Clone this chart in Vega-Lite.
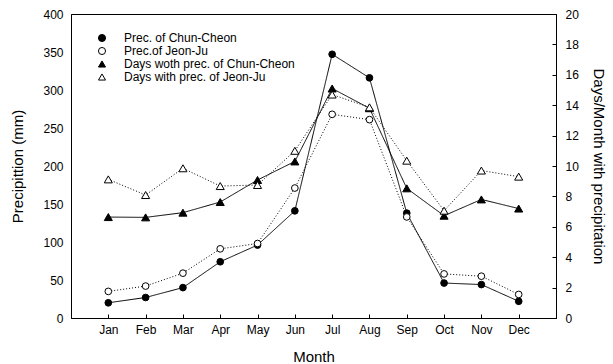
{
 "$schema": "https://vega.github.io/schema/vega-lite/v6.json",
 "width": 485,
 "height": 304,
 "autosize": {"type": "none"},
 "padding": {"left": 71, "top": 14, "right": 57, "bottom": 46},
 "background": "white",
 "config": {
  "view": {"stroke": "black", "strokeWidth": 1},
  "font": "Liberation Sans",
  "axis": {"labelFont": "Liberation Sans", "titleFont": "Liberation Sans", "labelFontSize": 12, "titleFontSize": 15, "titleFontWeight": "normal", "labelColor": "black", "titleColor": "black", "domainColor": "black", "tickColor": "black", "grid": false}
 },
 "data": {"values": [
  {"month": "Jan", "series": "Prec. of Chun-Cheon", "kind": "prec", "value": 20},
  {"month": "Feb", "series": "Prec. of Chun-Cheon", "kind": "prec", "value": 27},
  {"month": "Mar", "series": "Prec. of Chun-Cheon", "kind": "prec", "value": 40},
  {"month": "Apr", "series": "Prec. of Chun-Cheon", "kind": "prec", "value": 74},
  {"month": "May", "series": "Prec. of Chun-Cheon", "kind": "prec", "value": 96},
  {"month": "Jun", "series": "Prec. of Chun-Cheon", "kind": "prec", "value": 141},
  {"month": "Jul", "series": "Prec. of Chun-Cheon", "kind": "prec", "value": 347},
  {"month": "Aug", "series": "Prec. of Chun-Cheon", "kind": "prec", "value": 316},
  {"month": "Sep", "series": "Prec. of Chun-Cheon", "kind": "prec", "value": 138},
  {"month": "Oct", "series": "Prec. of Chun-Cheon", "kind": "prec", "value": 46},
  {"month": "Nov", "series": "Prec. of Chun-Cheon", "kind": "prec", "value": 44},
  {"month": "Dec", "series": "Prec. of Chun-Cheon", "kind": "prec", "value": 22},
  {"month": "Jan", "series": "Prec.of Jeon-Ju", "kind": "prec", "value": 35},
  {"month": "Feb", "series": "Prec.of Jeon-Ju", "kind": "prec", "value": 42},
  {"month": "Mar", "series": "Prec.of Jeon-Ju", "kind": "prec", "value": 59},
  {"month": "Apr", "series": "Prec.of Jeon-Ju", "kind": "prec", "value": 91},
  {"month": "May", "series": "Prec.of Jeon-Ju", "kind": "prec", "value": 98},
  {"month": "Jun", "series": "Prec.of Jeon-Ju", "kind": "prec", "value": 171},
  {"month": "Jul", "series": "Prec.of Jeon-Ju", "kind": "prec", "value": 268},
  {"month": "Aug", "series": "Prec.of Jeon-Ju", "kind": "prec", "value": 261},
  {"month": "Sep", "series": "Prec.of Jeon-Ju", "kind": "prec", "value": 133},
  {"month": "Oct", "series": "Prec.of Jeon-Ju", "kind": "prec", "value": 58},
  {"month": "Nov", "series": "Prec.of Jeon-Ju", "kind": "prec", "value": 55},
  {"month": "Dec", "series": "Prec.of Jeon-Ju", "kind": "prec", "value": 31},
  {"month": "Jan", "series": "Days woth prec. of Chun-Cheon", "kind": "days", "value": 6.64},
  {"month": "Feb", "series": "Days woth prec. of Chun-Cheon", "kind": "days", "value": 6.62},
  {"month": "Mar", "series": "Days woth prec. of Chun-Cheon", "kind": "days", "value": 6.93},
  {"month": "Apr", "series": "Days woth prec. of Chun-Cheon", "kind": "days", "value": 7.63},
  {"month": "May", "series": "Days woth prec. of Chun-Cheon", "kind": "days", "value": 9.08},
  {"month": "Jun", "series": "Days woth prec. of Chun-Cheon", "kind": "days", "value": 10.3},
  {"month": "Jul", "series": "Days woth prec. of Chun-Cheon", "kind": "days", "value": 15.1},
  {"month": "Aug", "series": "Days woth prec. of Chun-Cheon", "kind": "days", "value": 13.8},
  {"month": "Sep", "series": "Days woth prec. of Chun-Cheon", "kind": "days", "value": 8.53},
  {"month": "Oct", "series": "Days woth prec. of Chun-Cheon", "kind": "days", "value": 6.73},
  {"month": "Nov", "series": "Days woth prec. of Chun-Cheon", "kind": "days", "value": 7.8},
  {"month": "Dec", "series": "Days woth prec. of Chun-Cheon", "kind": "days", "value": 7.2},
  {"month": "Jan", "series": "Days with prec. of Jeon-Ju", "kind": "days", "value": 9.12},
  {"month": "Feb", "series": "Days with prec. of Jeon-Ju", "kind": "days", "value": 8.09},
  {"month": "Mar", "series": "Days with prec. of Jeon-Ju", "kind": "days", "value": 9.85},
  {"month": "Apr", "series": "Days with prec. of Jeon-Ju", "kind": "days", "value": 8.68},
  {"month": "May", "series": "Days with prec. of Jeon-Ju", "kind": "days", "value": 8.75},
  {"month": "Jun", "series": "Days with prec. of Jeon-Ju", "kind": "days", "value": 11.0},
  {"month": "Jul", "series": "Days with prec. of Jeon-Ju", "kind": "days", "value": 14.7},
  {"month": "Aug", "series": "Days with prec. of Jeon-Ju", "kind": "days", "value": 13.86},
  {"month": "Sep", "series": "Days with prec. of Jeon-Ju", "kind": "days", "value": 10.35},
  {"month": "Oct", "series": "Days with prec. of Jeon-Ju", "kind": "days", "value": 7.06},
  {"month": "Nov", "series": "Days with prec. of Jeon-Ju", "kind": "days", "value": 9.7},
  {"month": "Dec", "series": "Days with prec. of Jeon-Ju", "kind": "days", "value": 9.3}
 ]},
 "encoding": {
  "x": {"field": "month", "type": "ordinal", "sort": ["Jan","Feb","Mar","Apr","May","Jun","Jul","Aug","Sep","Oct","Nov","Dec"], "scale": {"type": "point", "padding": 1}, "axis": {"title": "Month", "labelAngle": 0, "tickSize": -4, "labelPadding": 10, "titlePadding": 14}}
 },
 "layer": [
  {
   "transform": [{"filter": "datum.kind === 'prec'"}],
   "encoding": {"y": {"field": "value", "type": "quantitative", "scale": {"domain": [0, 400], "nice": false}, "axis": {"title": "Precipittion (mm)", "values": [0,50,100,150,200,250,300,350,400], "ticks": false, "labelPadding": 8, "titlePadding": 17}}},
   "layer": [
    {"mark": {"type": "line", "color": "black", "strokeWidth": 1},
     "encoding": {
      "detail": {"field": "series", "type": "nominal"},
      "strokeDash": {"condition": {"test": "indexof(['Prec. of Chun-Cheon','Days woth prec. of Chun-Cheon'], datum.series) >= 0", "value": [1, 0]}, "value": [1, 2]}
     }},
    {"mark": {"type": "point", "filled": true, "stroke": "black", "strokeWidth": 1, "opacity": 1, "size": 45},
     "encoding": {
      "fill": {"field": "series", "type": "nominal", "scale": {"domain": ["Prec. of Chun-Cheon","Prec.of Jeon-Ju","Days woth prec. of Chun-Cheon","Days with prec. of Jeon-Ju"], "range": ["black","white","black","white"]},
       "legend": {"title": null, "orient": "none", "legendX": 25, "legendY": 18, "symbolSize": 50, "labelOffset": 16, "labelLimit": 400, "labelFont": "Liberation Sans", "labelFontSize": 12, "labelColor": "black", "rowPadding": 1, "symbolStrokeWidth": 1, "symbolOpacity": 1}},
      "shape": {"field": "series", "type": "nominal", "scale": {"domain": ["Prec. of Chun-Cheon","Prec.of Jeon-Ju","Days woth prec. of Chun-Cheon","Days with prec. of Jeon-Ju"], "range": ["circle","circle","triangle-up","triangle-up"]},
       "legend": {"title": null, "orient": "none", "legendX": 25, "legendY": 18, "symbolSize": 50, "labelOffset": 16, "labelLimit": 400, "labelFont": "Liberation Sans", "labelFontSize": 12, "labelColor": "black", "rowPadding": 1, "symbolStrokeWidth": 1, "symbolOpacity": 1}}
     }}
   ]
  },
  {
   "transform": [{"filter": "datum.kind === 'days'"}],
   "encoding": {"y": {"field": "value", "type": "quantitative", "scale": {"domain": [0, 20], "nice": false}, "axis": {"orient": "right", "title": "Days/Month with precipitation", "values": [0,2,4,6,8,10,12,14,16,18,20], "tickSize": -4, "labelPadding": 13, "titlePadding": 12}}},
   "layer": [
    {"mark": {"type": "line", "color": "black", "strokeWidth": 1},
     "encoding": {
      "detail": {"field": "series", "type": "nominal"},
      "strokeDash": {"condition": {"test": "indexof(['Prec. of Chun-Cheon','Days woth prec. of Chun-Cheon'], datum.series) >= 0", "value": [1, 0]}, "value": [1, 2]}
     }},
    {"mark": {"type": "point", "filled": true, "stroke": "black", "strokeWidth": 1, "opacity": 1, "size": 65},
     "encoding": {
      "fill": {"field": "series", "type": "nominal"},
      "shape": {"field": "series", "type": "nominal"}
     }}
   ]
  }
 ],
 "resolve": {"scale": {"y": "independent"}}
}
